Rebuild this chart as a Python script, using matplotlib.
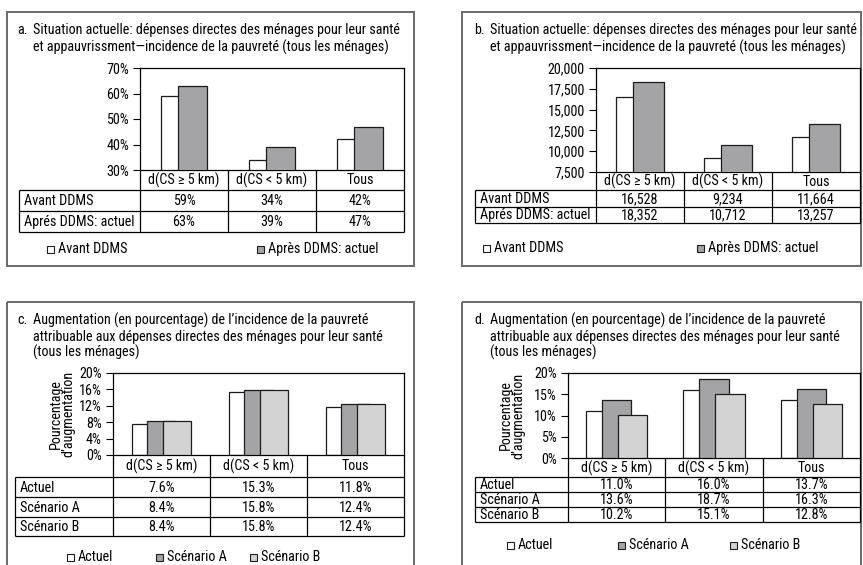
import matplotlib.pyplot as plt
from matplotlib.patches import Rectangle

W, H = 863, 565
FS = 10.2
plt.rcParams['font.family'] = ['Roboto Condensed', 'Liberation Sans', 'DejaVu Sans']
plt.rcParams['font.size'] = FS

# categories and values
categories = ['d(CS ≥ 5 km)', 'd(CS < 5 km)', 'Tous']

incidence_avant = [59, 34, 42]
incidence_apres = [63, 39, 47]

pauvres_avant = [16528, 9234, 11664]
pauvres_apres = [18352, 10712, 13257]

hausse_c_actuel = [7.6, 15.3, 11.8]
hausse_c_scen_a = [8.4, 15.8, 12.4]
hausse_c_scen_b = [8.4, 15.8, 12.4]

hausse_d_actuel = [11.0, 16.0, 13.7]
hausse_d_scen_a = [13.6, 18.7, 16.3]
hausse_d_scen_b = [10.2, 15.1, 12.8]

labels_ddms = ['Avant DDMS', 'Aprés DDMS: actuel']
legend_ddms = ['Avant DDMS', 'Après DDMS: actuel']
labels_scen = ['Actuel', 'Scénario A', 'Scénario B']

title_ab = ['Situation actuelle: dépenses directes des ménages pour leur santé',
            'et appauvrissment\u2014incidence de la pauvreté (tous les ménages)']
title_cd = ['Augmentation (en pourcentage) de l\u2019incidence de la pauvreté',
            'attribuable aux dépenses directes des ménages pour leur santé',
            '(tous les ménages)']

WHITE, DARK, LIGHT = '#ffffff', '#a4a4a7', '#d3d3d4'
EDGE = '#1c1c1c'

fig = plt.figure(figsize=(W / 100, H / 100), dpi=100)
bg = fig.add_axes([0, 0, 1, 1])
bg.set_xlim(0, W)
bg.set_ylim(H, 0)
bg.axis('off')


def px_axes(l, t, r, b):
    return fig.add_axes([l / W, 1 - b / H, (r - l) / W, (b - t) / H])


def line(xs, ys, **kw):
    bg.plot(xs, ys, color='black', lw=0.9, solid_capstyle='butt', **kw)


def panel(letter, frame, title_x, title_ys, title, axbox, table_x0, row_ys,
          series, colors, row_labels, fmt, ylim, yticks, yfmt,
          legend_labels, legend_xs, legend_y, width, offsets, ylabel_x=None):
    fl, ft, fr, fb = frame
    bg.add_patch(Rectangle((fl, ft), fr - fl, fb - ft, fill=False,
                           ec='#6a6a6a', lw=1.4))
    bg.text(title_x, title_ys[0], letter, ha='left', va='center')
    for txt, y in zip(title, title_ys):
        bg.text(title_x + 16, y, txt, ha='left', va='center')

    l, t, r, b = axbox
    ax = px_axes(l, t, r, b)
    x = range(len(categories))
    for s, (vals, col) in enumerate(zip(series, colors)):
        ax.bar([i + offsets[s] for i in x], vals, width, color=col,
               edgecolor=EDGE, lw=0.9, zorder=2 + s)
    ax.set_xlim(-0.5, len(categories) - 0.5)
    ax.set_ylim(*ylim)
    ax.set_yticks(yticks)
    ax.set_yticklabels([yfmt(v) for v in yticks])
    ax.set_xticks([])
    ax.tick_params(axis='y', length=5, width=0.8, pad=3, labelsize=FS)
    for sp in ax.spines.values():
        sp.set_linewidth(0.9)

    if ylabel_x is not None:
        bg.text(ylabel_x, (t + b) / 2, 'Pourcentage\nd\u2019augmentation',
                rotation=90, ha='center', va='center', multialignment='center',
                linespacing=0.85)

    # table below the plot: category header row and one row per series
    cw = (r - l) / len(categories)
    xs = [l + k * cw for k in range(len(categories) + 1)]
    for xv in xs:
        line([xv, xv], [row_ys[0], row_ys[-1]])
    line([table_x0, table_x0], [row_ys[1], row_ys[-1]])
    for yv in row_ys[1:]:
        line([table_x0, r], [yv, yv])
    for k, c in enumerate(categories):
        bg.text((xs[k] + xs[k + 1]) / 2, (row_ys[0] + row_ys[1]) / 2 + 0.5, c,
                ha='center', va='center')
    for i, (lab, vals) in enumerate(zip(row_labels, series)):
        yc = (row_ys[i + 1] + row_ys[i + 2]) / 2 + 0.5
        bg.text(table_x0 + 5, yc, lab, ha='left', va='center')
        for k, v in enumerate(vals):
            bg.text((xs[k] + xs[k + 1]) / 2, yc, fmt(v), ha='center', va='center')

    for lab, col, lx in zip(legend_labels, colors, legend_xs):
        bg.add_patch(Rectangle((lx, legend_y - 3.5), 7, 7, fc=col, ec=EDGE, lw=0.8))
        bg.text(lx + 11, legend_y, lab, ha='left', va='center')


pct0 = lambda v: f'{v:.0f}%'
pct1 = lambda v: f'{v:.1f}%'
thous = lambda v: f'{v:,.0f}'

panel('a.', (7, 12, 414, 266), 17, [30, 47], title_ab,
      (140, 68, 404, 170), 19, [170, 190, 211, 232],
      [incidence_avant, incidence_apres], [WHITE, DARK], labels_ddms, pct0,
      (30, 70), [30, 40, 50, 60, 70], pct0,
      legend_ddms, [47, 257], 249, 0.33, [-0.095, 0.095])

panel('b.', (462, 12, 861, 266), 474, [30, 47], title_ab,
      (596, 68, 860, 172), 475, [172, 190, 207, 223],
      [pauvres_avant, pauvres_apres], [WHITE, DARK], labels_ddms, thous,
      (7500, 20000), [7500, 10000, 12500, 15000, 17500, 20000], thous,
      legend_ddms, [483, 697], 248, 0.35, [-0.1, 0.1])

panel('c.', (7, 302, 414, 575), 17, [320, 337, 352], title_cd,
      (113, 373, 404, 455), 15, [455, 477, 497, 517, 536],
      [hausse_c_actuel, hausse_c_scen_a, hausse_c_scen_b], [WHITE, DARK, LIGHT],
      labels_scen, pct1,
      (0, 20), [0, 4, 8, 12, 16, 20], pct0,
      labels_scen, [67, 156, 250], 557, 0.29, [-0.16, 0.0, 0.16],
      ylabel_x=62)

panel('d.', (462, 302, 861, 575), 474, [320, 337, 352], title_cd,
      (568, 373, 860, 458), 475, [458, 477, 492, 507, 522],
      [hausse_d_actuel, hausse_d_scen_a, hausse_d_scen_b], [WHITE, DARK, LIGHT],
      labels_scen, pct1,
      (0, 20), [0, 5, 10, 15, 20], pct0,
      labels_scen, [507, 618, 730], 545, 0.30, [-0.165, 0.0, 0.165],
      ylabel_x=512)

fig.savefig('out.png', dpi=100)
